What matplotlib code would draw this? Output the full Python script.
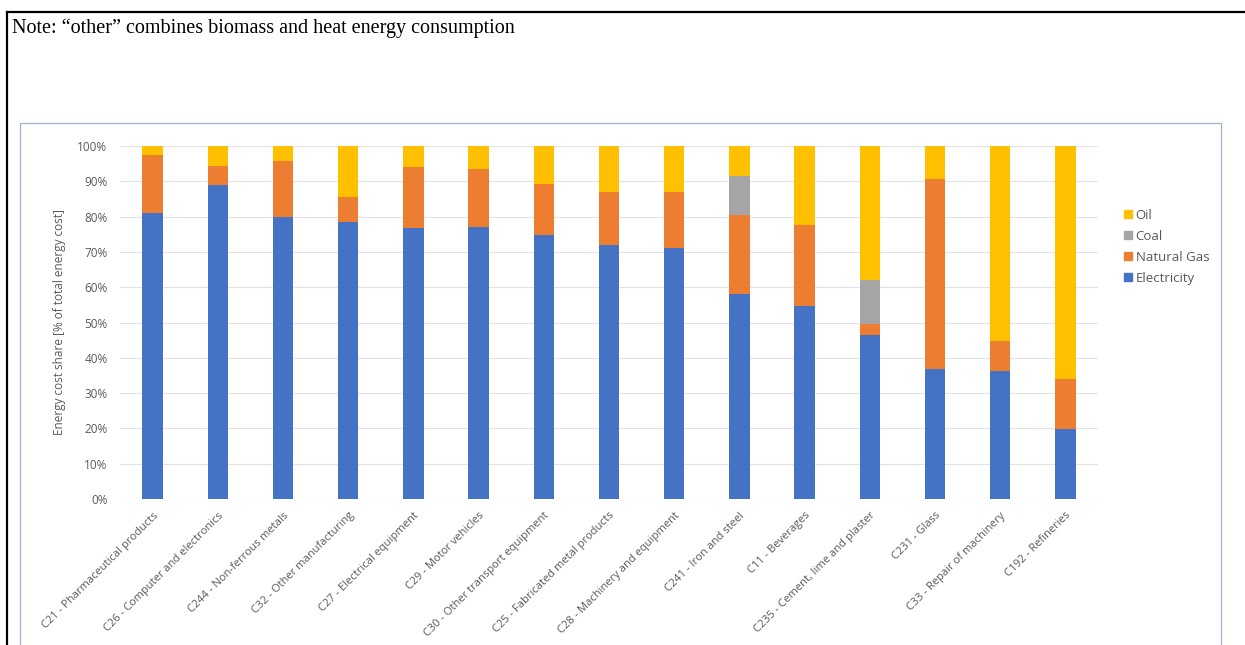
import matplotlib
matplotlib.use("Agg")
import matplotlib.pyplot as plt
import numpy as np
from matplotlib.lines import Line2D
from matplotlib.patches import Rectangle, Patch
from matplotlib.ticker import PercentFormatter

sectors = [
    "C21 - Pharmaceutical products",
    "C26 - Computer and electronics",
    "C244 - Non-ferrous metals",
    "C32 - Other manufacturing",
    "C27 - Electrical equipment",
    "C29 - Motor vehicles",
    "C30 - Other transport equipment",
    "C25 - Fabricated metal products",
    "C28 - Machinery and equipment",
    "C241 - Iron and steel",
    "C11 - Beverages",
    "C235 - Cement, lime and plaster",
    "C231 - Glass",
    "C33 - Repair of machinery",
    "C192 - Refineries",
]

# shares in % of total energy cost
electricity = [81.1, 89.0, 80.0, 78.4, 76.9, 77.1, 74.7, 72.0, 71.2, 58.1, 54.8, 46.5, 36.7, 36.3, 19.7]
natural_gas = [16.3, 5.3, 15.8, 7.1, 17.1, 16.5, 14.5, 15.1, 15.7, 22.4, 22.8, 3.0, 53.9, 8.5, 14.2]
coal = [0, 0, 0, 0, 0, 0, 0, 0, 0, 11.0, 0, 12.5, 0, 0, 0]
oil = [100 - e - g - c for e, g, c in zip(electricity, natural_gas, coal)]

col_elec = "#4472C4"
col_gas = "#ED7D31"
col_coal = "#A5A5A5"
col_oil = "#FFC000"
txt_grey = "#595959"

plt.rcParams["font.family"] = ["Open Sans", "DejaVu Sans"]

fig = plt.figure(figsize=(12.45, 6.45), dpi=100)
W, H = 1245, 645

# outer document frame (top and left edges) and the inner chart frame
fig.add_artist(Line2D([7 / W, 1], [1 - 12 / H, 1 - 12 / H], color="black", lw=1.6))
fig.add_artist(Line2D([7 / W, 7 / W], [0, 1 - 12 / H], color="black", lw=1.6))
fig.add_artist(Rectangle((20 / W, -0.05), (1221 - 20) / W, (0.05 + 1 - 123 / H),
                         fill=False, ec="#9FB4C8", lw=0.9))

fig.text(12 / W, 1 - 33 / H, "Note: \u201cother\u201d combines biomass and heat energy consumption",
         fontsize=14.5, family="Liberation Serif", color="black")

ax = fig.add_axes([120 / W, 1 - 499 / H, (1098 - 120) / W, (499 - 146) / H])
x = np.arange(len(sectors))
bw = 0.31

ax.bar(x, electricity, bw, color=col_elec, zorder=3)
b1 = np.array(electricity)
ax.bar(x, natural_gas, bw, bottom=b1, color=col_gas, zorder=3)
b2 = b1 + np.array(natural_gas)
ax.bar(x, coal, bw, bottom=b2, color=col_coal, zorder=3)
b3 = b2 + np.array(coal)
ax.bar(x, oil, bw, bottom=b3, color=col_oil, zorder=3)

ax.set_xlim(-0.5, len(sectors) - 0.5)
ax.set_ylim(0, 100)
ax.set_yticks(np.arange(0, 101, 10))
ax.yaxis.set_major_formatter(PercentFormatter(decimals=0))
ax.grid(axis="y", color="#E3E3E3", lw=0.8, zorder=0)
for s in ax.spines.values():
    s.set_visible(False)
ax.axhline(0, color="#D9D9D9", lw=0.8, zorder=1)
ax.tick_params(axis="y", length=0, colors=txt_grey, labelsize=8.5, pad=9)
ax.set_xticks(x)
ax.set_xticklabels(sectors, rotation=45, ha="right", rotation_mode="anchor")
ax.tick_params(axis="x", length=0, colors=txt_grey, labelsize=8, pad=8)
ax.set_ylabel("Energy cost share [% of total energy cost]", color=txt_grey, fontsize=8.5, labelpad=8)

handles = [Patch(color=col_oil, label="Oil"), Patch(color=col_coal, label="Coal"),
           Patch(color=col_gas, label="Natural Gas"), Patch(color=col_elec, label="Electricity")]
leg = fig.legend(handles=handles, loc="upper left", bbox_to_anchor=(1112 / W, 1 - 197 / H),
                 frameon=False, fontsize=9.5, handlelength=0.6, handleheight=0.6,
                 handletextpad=0.3, labelspacing=0.6, labelcolor=txt_grey)

fig.savefig("out.png", dpi=100)
